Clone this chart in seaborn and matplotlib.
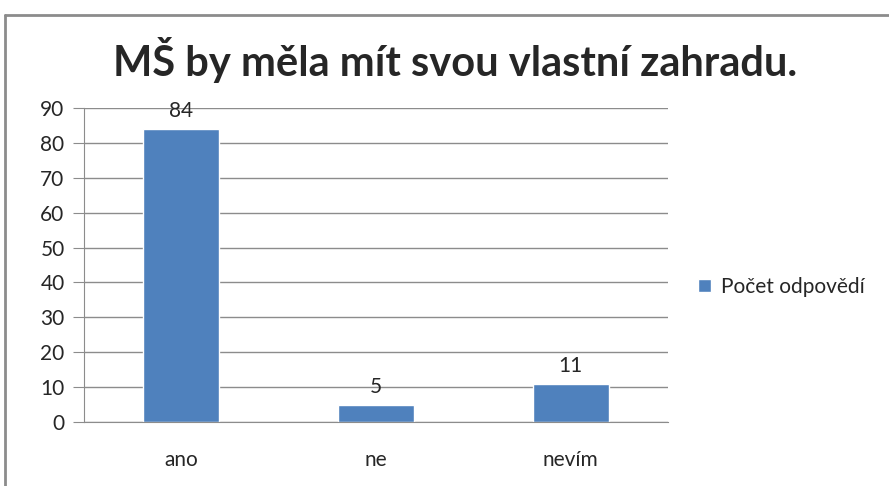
import pandas as pd
import matplotlib.pyplot as plt
import seaborn as sns
from matplotlib.lines import Line2D
from matplotlib.patches import Patch

# data
categories = ['ano', 'ne', 'nevím']
counts = [84, 5, 11]
series_name = 'Počet odpovědí'
title = 'MŠ by měla mít svou vlastní zahradu.'

df = pd.DataFrame({'odpoved': categories, 'pocet': counts})

sns.set_style('white')
plt.rcParams['font.family'] = ['Lato', 'DejaVu Sans']

fig = plt.figure(figsize=(8.89, 4.86), dpi=100)
ax = fig.add_axes([0.0945, 0.1317, 0.6569, 0.6461])

sns.barplot(data=df, x='odpoved', y='pocet', color='#4F81BD',
            saturation=1, width=0.39, ax=ax)

ax.set_ylim(0, 90)
ax.set_yticks(range(0, 91, 10))
ax.set_xlim(-0.5, 2.5)
ax.set_xlabel('')
ax.set_ylabel('')
ax.yaxis.grid(True, color='#8c8c8c', linewidth=1)
ax.set_axisbelow(True)
for s in ['top', 'right']:
    ax.spines[s].set_visible(False)
ax.spines['left'].set_color('#8c8c8c')
ax.spines['bottom'].set_color('#8c8c8c')

# category boundary ticks
ax.set_xticks([-0.5, 0.5, 1.5, 2.5], minor=True)
ax.tick_params(axis='x', which='minor', length=6, color='#8c8c8c', direction='out')
ax.tick_params(axis='x', which='major', length=0, pad=20, labelsize=15)
ax.tick_params(axis='y', length=8, color='#8c8c8c', direction='out', labelsize=15, pad=6)
ax.tick_params(left=True, bottom=True)

for i, v in enumerate(counts):
    ax.text(i, v + 2.2, str(v), ha='center', va='bottom', fontsize=15)

fig.text(0.512, 0.877, title, ha='center', va='center', fontsize=30, fontweight='bold')

ax.legend(handles=[Patch(facecolor='#4F81BD', label=series_name)],
          loc='center left', bbox_to_anchor=(1.02, 0.43), frameon=False,
          fontsize=15, handlelength=0.6, handleheight=0.6, handletextpad=0.5)

# chart border
fig.add_artist(Line2D([0.006, 0.006], [0.0, 0.969], color='#8c8c8c', lw=2, transform=fig.transFigure))
fig.add_artist(Line2D([0.006, 1.0], [0.969, 0.969], color='#8c8c8c', lw=2, transform=fig.transFigure))

fig.savefig('out.png', dpi=100)
